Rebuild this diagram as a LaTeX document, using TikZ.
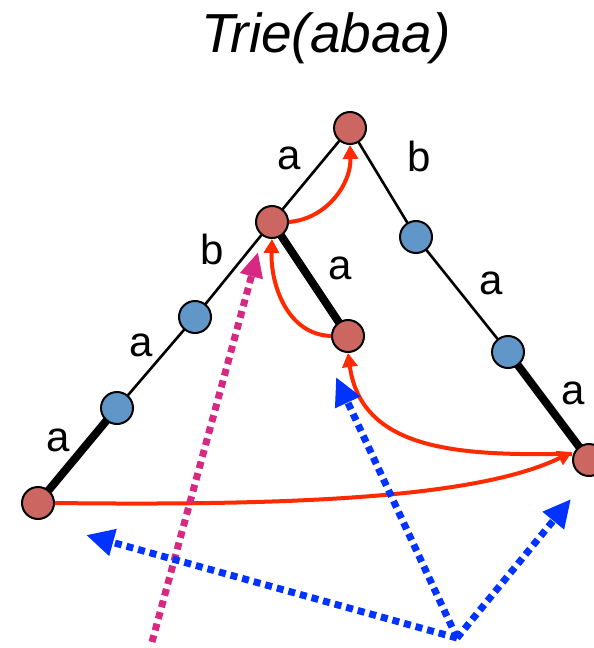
\documentclass[tikz,border=0pt]{standalone}
\usepackage{fontspec}
\setmainfont{Liberation Sans}
\usetikzlibrary{arrows.meta}
\definecolor{nodered}{HTML}{CC6660}
\definecolor{nodeblue}{HTML}{6096C8}
\definecolor{linkred}{HTML}{FF2A00}
\definecolor{dotblue}{HTML}{0033FF}
\definecolor{dotmag}{HTML}{D62A82}
\begin{document}
\begin{tikzpicture}[x=1pt,y=-1pt,
  rednode/.style={circle,draw=black,line width=2pt,fill=nodered,minimum size=32pt,inner sep=0pt},
  bluenode/.style={circle,draw=black,line width=2pt,fill=nodeblue,minimum size=32pt,inner sep=0pt},
  thinedge/.style={line width=2.6pt},
  thickedge/.style={line width=8pt},
  lbl/.style={font=\fontsize{42}{46}\selectfont,inner sep=0pt},
  slink/.style={draw=linkred,line width=4pt,-{Triangle[length=14pt,width=15pt]}},
  dotarrow/.style={line width=7pt,dash pattern=on 7pt off 5pt},
  bluedot/.style={dotarrow,draw=dotblue,-{Triangle[length=28pt,width=26pt,fill=dotblue]}},
  magdot/.style={dotarrow,draw=dotmag,-{Triangle[length=25pt,width=22pt,fill=dotmag]}}
]
\useasboundingbox (0,0) rectangle (594,648);
\node[font=\fontsize{55}{60}\selectfont\itshape] (title) at (326,38) {Trie(abaa)};
% node positions
\coordinate (pr) at (350,128);
\coordinate (pa) at (272,222);
\coordinate (pb) at (195,317);
\coordinate (pc) at (117,408);
\coordinate (pd) at (38,503);
\coordinate (pe) at (416,237);
\coordinate (pf) at (508,352);
\coordinate (pg) at (589,460);
\coordinate (ph) at (348,336);
% edges
\draw[thinedge] (pr) -- (pa);
\draw[thinedge] (pa) -- (pb);
\draw[thinedge] (pb) -- (pc);
\draw[thickedge] (pc) -- (pd);
\draw[thinedge] (pr) -- (pe);
\draw[thinedge] (pe) -- (pf);
\draw[thickedge] (pf) -- (pg);
\draw[thickedge] (pa) -- (ph);
% nodes
\node[rednode] (r) at (pr) {};
\node[rednode] (na) at (pa) {};
\node[bluenode] (nb) at (pb) {};
\node[bluenode] (nc) at (pc) {};
\node[rednode] (nd) at (pd) {};
\node[bluenode] (ne) at (pe) {};
\node[bluenode] (nf) at (pf) {};
\node[rednode] (ng) at (pg) {};
\node[rednode] (nh) at (ph) {};
% labels
\node[lbl] (l1) at (289,158) {a};
\node[lbl] (l2) at (419,156) {b};
\node[lbl] (l3) at (212,249) {b};
\node[lbl] (l4) at (340,268) {a};
\node[lbl] (l5) at (491,283) {a};
\node[lbl] (l6) at (141,345) {a};
\node[lbl] (l7) at (573,393) {a};
\node[lbl] (l8) at (58,440) {a};
% suffix links
\draw[slink] (na.east) to[out=5,in=-88] (r.south);
\draw[slink] (nh.west) to[out=178,in=-92] (na.south);
\draw[slink] (nd.east) .. controls (300,506) and (480,497) .. ([yshift=8pt]ng.west);
\draw[slink] ([yshift=6pt]ng.west) .. controls (470,455) and (362,455) .. (nh.south);
% dotted arrows
\coordinate (bstart) at (457,638);
\coordinate (bt1) at (86,535);
\coordinate (bt2) at (336,377);
\coordinate (bt3) at (571,499);
\coordinate (mstart) at (152,642);
\coordinate (mt) at (258,252);
\draw[magdot] (mstart) -- (mt);
\draw[bluedot] (bstart) -- (bt1);
\draw[bluedot] (bstart) -- (bt2);
\draw[bluedot] (bstart) -- (bt3);
\end{tikzpicture}
\end{document}
